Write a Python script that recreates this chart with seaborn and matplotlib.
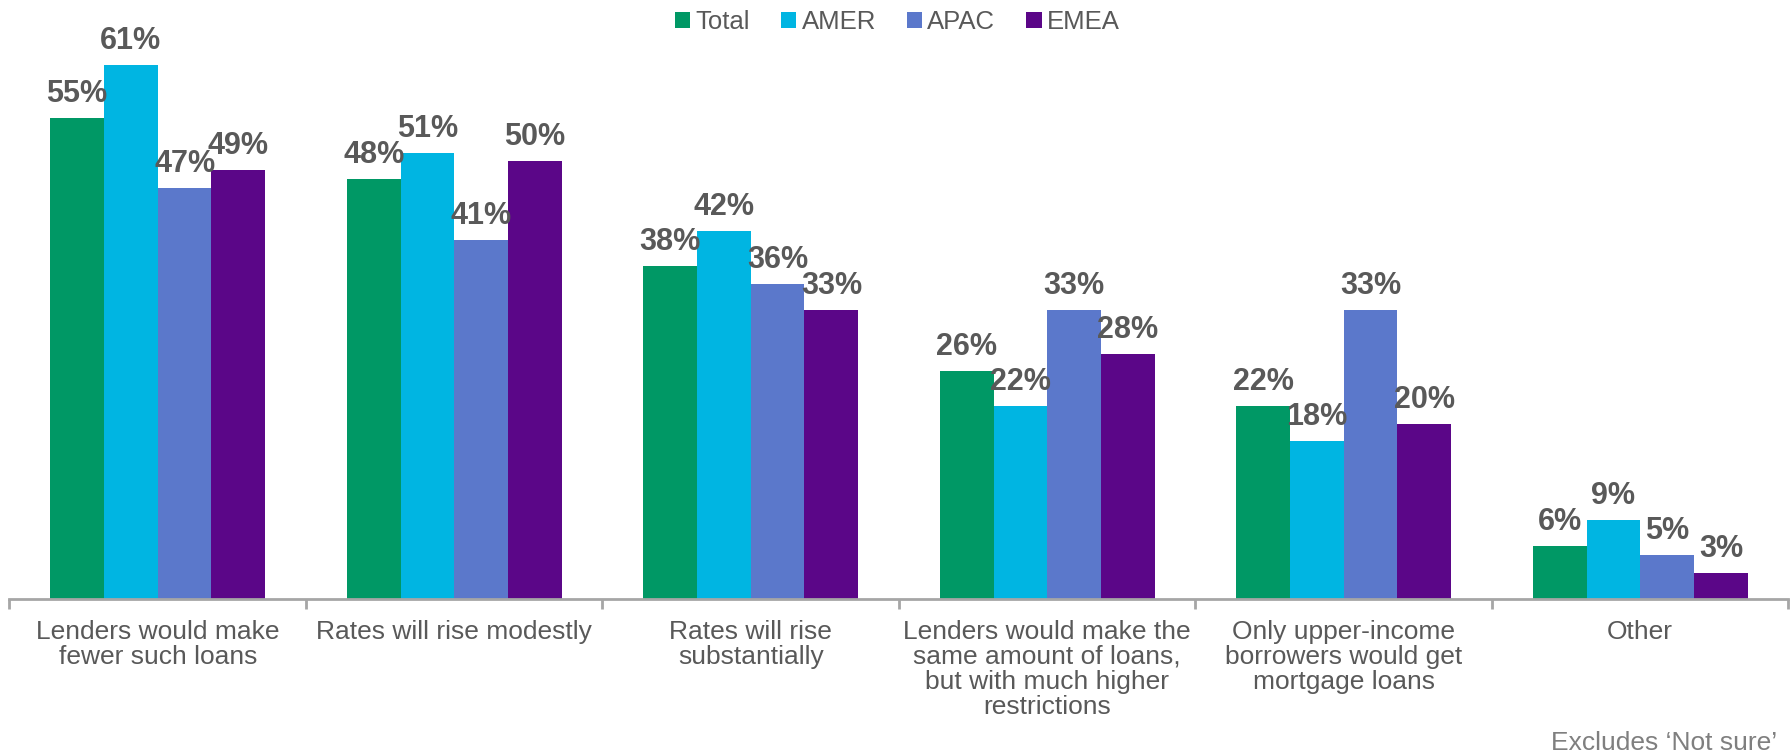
import pandas as pd
import matplotlib.pyplot as plt
import seaborn as sns

categories = ['Lenders would make\nfewer such loans',
              'Rates will rise modestly',
              'Rates will rise\nsubstantially',
              'Lenders would make the\nsame amount of loans,\nbut with much higher\nrestrictions',
              'Only upper-income\nborrowers would get\nmortgage loans',
              'Other']
regions = ['Total', 'AMER', 'APAC', 'EMEA']
total = [55, 48, 38, 26, 22, 6]
amer = [61, 51, 42, 22, 18, 9]
apac = [47, 41, 36, 33, 33, 5]
emea = [49, 50, 33, 28, 20, 3]
colors = ['#009865', '#00B5E2', '#5B78CB', '#5B0688']

rows = []
for name, vals in zip(regions, [total, amer, apac, emea]):
    for cat, v in zip(categories, vals):
        rows.append({'category': cat, 'region': name, 'value': v})
df = pd.DataFrame(rows)

sns.set_style('white')
plt.rcParams['font.family'] = ['Liberation Sans', 'DejaVu Sans']
grey = '#595959'
axis_grey = '#a6a6a6'

fig = plt.figure(figsize=(17.91, 7.55), dpi=100)
ax = fig.add_axes([0.0053, 0.2066, 0.9933, 0.7536])

sns.barplot(data=df, x='category', y='value', hue='region', palette=colors,
            width=0.725, gap=0, saturation=1, linewidth=0, ax=ax, legend=True)

for cont in ax.containers:
    ax.bar_label(cont, fmt='%d%%', padding=6.5, fontsize=22, fontweight='bold',
                 color=grey)

ax.set_ylim(0, 65)
ax.set_xlim(-0.5, 5.5)
ax.set_xlabel('')
ax.set_ylabel('')
ax.set_yticks([])
for s in ['top', 'right', 'left']:
    ax.spines[s].set_visible(False)
ax.spines['bottom'].set_color(axis_grey)
ax.spines['bottom'].set_linewidth(2)
ax.set_xticks([i - 0.5 for i in range(7)], minor=True)
ax.tick_params(axis='x', which='minor', bottom=True, length=7, width=2,
               color=axis_grey, direction='out')
ax.tick_params(axis='x', which='major', length=0, pad=15, labelsize=19,
               labelcolor=grey)
for lbl in ax.get_xticklabels():
    lbl.set_linespacing(1.05)

handles, labels = ax.get_legend_handles_labels()
ax.legend(handles, labels, loc='upper center', bbox_to_anchor=(0.501, 1.0),
          bbox_transform=fig.transFigure, ncol=4, frameon=False, fontsize=18.5,
          handlelength=0.6, handleheight=0.6, handletextpad=0.2,
          columnspacing=1.2, labelcolor=grey, borderaxespad=0.0)

fig.text(0.992, 0.0, 'Excludes \u2018Not sure\u2019', ha='right', va='bottom',
         fontsize=19, color='#7f7f7f')

fig.savefig('out.png', dpi=100)
